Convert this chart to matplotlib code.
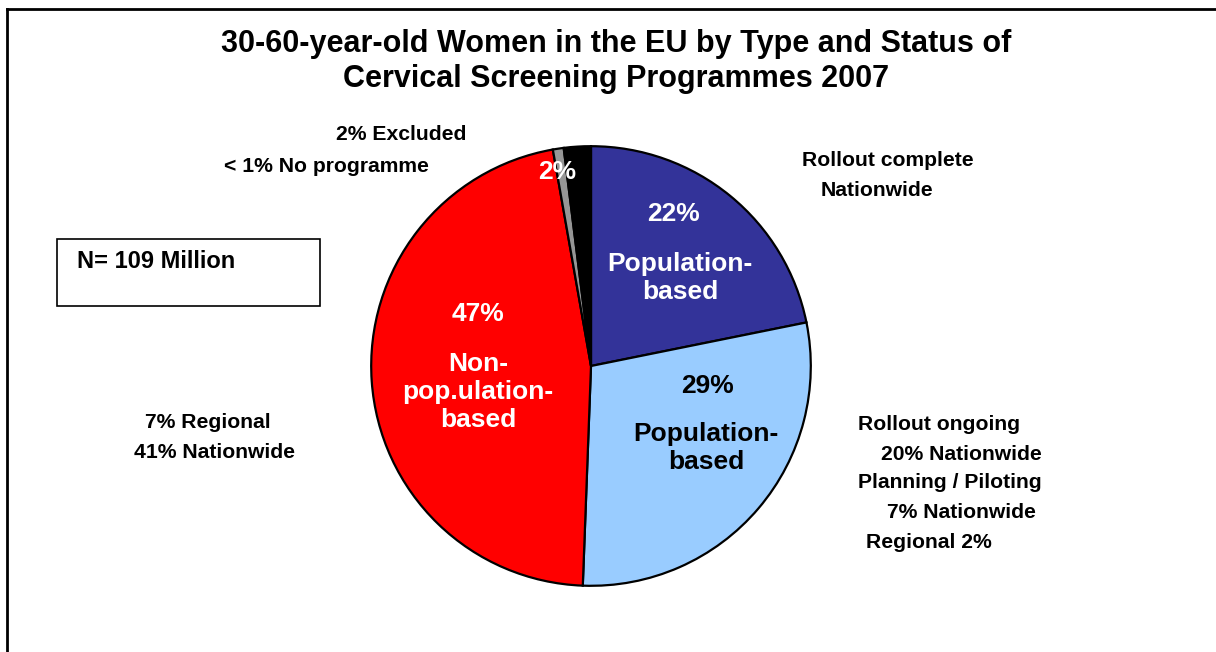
import matplotlib.pyplot as plt
from matplotlib.lines import Line2D
from matplotlib.patches import Rectangle

plt.rcParams['font.family'] = ['Liberation Sans', 'DejaVu Sans']

# data
segmentos = ['Population-based complete', 'Population-based ongoing',
             'Non-population-based', 'No programme', 'Excluded']
valores = [22, 29, 47, 0.8, 2]
cores = ['#333399', '#99CCFF', '#FF0000', '#969696', '#000000']

W, H = 1216, 652
fig = plt.figure(figsize=(W / 100, H / 100), dpi=100)

# outer frame (left and top lines only, like the original)
fig.add_artist(Line2D([7 / W, 7 / W], [0, 1 - 9 / H], color='black', lw=2,
                      transform=fig.transFigure))
fig.add_artist(Line2D([7 / W, 1], [1 - 9 / H, 1 - 9 / H], color='black', lw=2,
                      transform=fig.transFigure))

# pie axes
cx, cy, r = 591, 366, 222
ax = fig.add_axes([(cx - r) / W, (H - cy - r) / H, 2 * r / W, 2 * r / H])
ax.pie(valores, colors=cores, startangle=90, counterclock=False,
       wedgeprops=dict(edgecolor='black', linewidth=1.6), radius=1)
ax.set_xlim(-1.01, 1.01)
ax.set_ylim(-1.01, 1.01)
ax.set_aspect('equal')
ax.axis('off')


def txt(x, y, s, size=12, color='black', ha='center'):
    fig.text(x / W, 1 - y / H, s, fontsize=size, color=color, ha=ha,
             va='center', fontweight='bold', linespacing=1.2)


# title
txt(616, 44, '30-60-year-old Women in the EU by Type and Status of', 22)
txt(616, 79, 'Cervical Screening Programmes 2007', 22)

# labels inside slices
txt(673, 214, '22%', 19, 'white')
txt(680, 278, 'Population-\nbased', 19, 'white')
txt(707, 386, '29%', 19)
txt(706, 448, 'Population-\nbased', 19)
txt(478, 314, '47%', 19, 'white')
txt(478, 392, 'Non-\npop.ulation-\nbased', 19, 'white')
txt(557, 172, '2%', 19, 'white')

# side annotations
fs = 15.2
txt(888, 160, 'Rollout complete', fs)
txt(877, 190, 'Nationwide', fs)
txt(401, 134, '2% Excluded', fs)
txt(326, 166, '< 1% No programme', fs)
txt(208, 423, '7% Regional', fs)
txt(215, 453, '41% Nationwide', fs)
txt(858, 424, 'Rollout ongoing', fs, ha='left')
txt(881, 454, '20% Nationwide', fs, ha='left')
txt(858, 483, 'Planning / Piloting', fs, ha='left')
txt(887, 513, '7% Nationwide', fs, ha='left')
txt(866, 543, 'Regional 2%', fs, ha='left')

# N box
fig.add_artist(Rectangle((57 / W, 1 - 306 / H), 263 / W, 67 / H,
                         fill=False, edgecolor='black', lw=1.2,
                         transform=fig.transFigure))
txt(77, 262, 'N= 109 Million', 17, ha='left')

fig.savefig('out.png', dpi=100)
